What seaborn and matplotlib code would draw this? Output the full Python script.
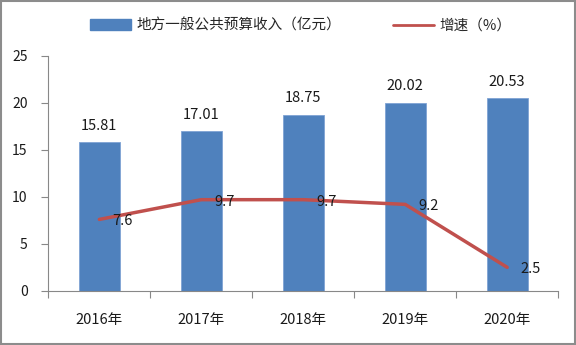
import matplotlib
matplotlib.use("Agg")
import matplotlib.pyplot as plt
from matplotlib.patches import Rectangle
from matplotlib.lines import Line2D
import numpy as np
import pandas as pd
import seaborn as sns

years = ["2016年", "2017年", "2018年", "2019年", "2020年"]
revenue = [15.81, 17.01, 18.75, 20.02, 20.53]
growth = [7.6, 9.7, 9.7, 9.2, 2.5]
y_ticks = [0, 5, 10, 15, 20, 25]

bar_name = "地方一般公共预算收入（亿元）"
line_name = "增速（%）"

sns.set_theme(style="white")
plt.rcParams["font.family"] = ["Noto Sans CJK SC", "DejaVu Sans"]

bar_color = "#4F81BD"
line_color = "#C0504D"
text_color = "#1a1a1a"

fig = plt.figure(figsize=(5.76, 3.45), dpi=100)
ax = fig.add_axes([0.084, 0.157, 0.885, 0.681])

df = pd.DataFrame({"year": years, "revenue": revenue, "growth": growth})
sns.barplot(data=df, x="year", y="revenue", color=bar_color, width=0.4,
            saturation=1, ax=ax, edgecolor="#7fa3d4", linewidth=0.6)
sns.lineplot(x=np.arange(len(years)), y=growth, color=line_color,
             linewidth=2.5, ax=ax)

for i, v in enumerate(revenue):
    ax.text(i, v + 1.0, f"{v:.2f}", ha="center", va="bottom", fontsize=10.5,
            color=text_color)
for i, v in enumerate(growth):
    ax.text(i + 0.13, v - 0.2, f"{v}", ha="left", va="center", fontsize=10.5,
            color=text_color)

ax.set_xlim(-0.5, len(years) - 0.5)
ax.set_ylim(0, 25)
ax.set_yticks(y_ticks)
ax.set_yticklabels([str(t) for t in y_ticks], fontsize=10, color=text_color)
ax.set_xlabel("")
ax.set_ylabel("")
ax.set_xticks(np.arange(len(years)))
ax.set_xticklabels(years, fontsize=10.5, color=text_color)
ax.tick_params(axis="x", which="major", length=0, pad=16)
ax.tick_params(axis="y", length=5, width=0.8, color="#888888", left=True,
               pad=10)
# tick marks between categories
ax.set_xticks(np.arange(-0.5, len(years)), minor=True)
ax.tick_params(axis="x", which="minor", length=5, width=0.8,
               color="#888888", bottom=True, direction="out")

for side in ["top", "right"]:
    ax.spines[side].set_visible(False)
for side in ["left", "bottom"]:
    ax.spines[side].set_color("#888888")
    ax.spines[side].set_linewidth(0.8)

handles = [Rectangle((0, 0), 1, 1, facecolor=bar_color, edgecolor=bar_color),
           Line2D([0], [0], color=line_color, linewidth=2)]
fig.legend(handles, [bar_name, line_name], loc="center",
           bbox_to_anchor=(0.522, 0.925), ncol=2, frameon=False, fontsize=10.5,
           handlelength=2.8, handleheight=0.8, columnspacing=3.6,
           handletextpad=0.35)

fig.add_artist(Rectangle((0.002, 0.003), 0.996, 0.994, transform=fig.transFigure,
                         fill=False, edgecolor="#8c8c8c", linewidth=1.5))

fig.savefig("out.png", dpi=100)
